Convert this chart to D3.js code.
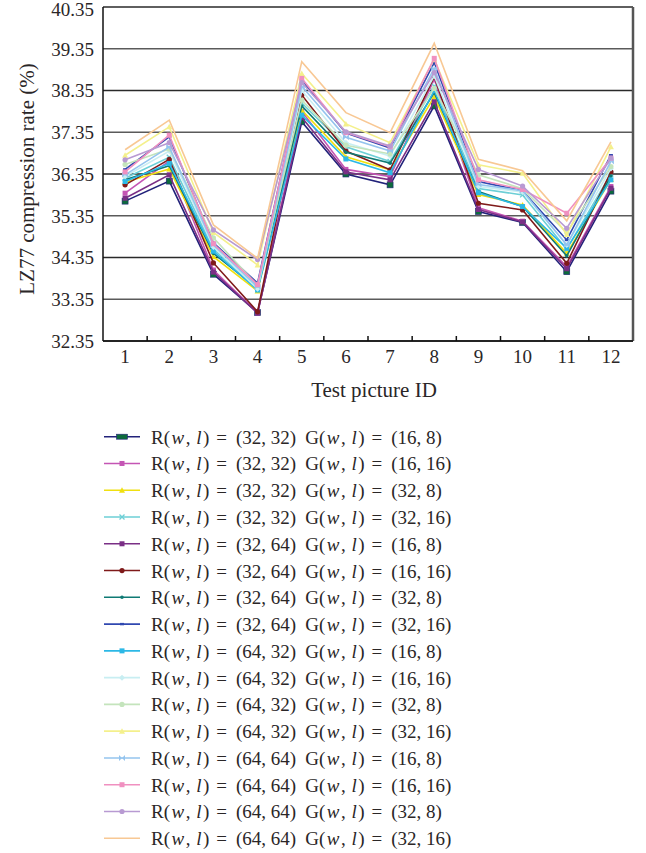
<!DOCTYPE html>
<html>
<head>
<meta charset="utf-8">
<script src="https://cdn.jsdelivr.net/npm/d3@7/dist/d3.min.js"></script>
<style>
  body { margin: 0; background: #fff; }
  text { font-family: "Liberation Serif", "DejaVu Serif", serif; fill: #2a2627; }
</style>
</head>
<body>
<div id="chart-area"></div>
<script>
// pictures on the x axis
const pictures = [1, 2, 3, 4, 5, 6, 7, 8, 9, 10, 11, 12]
const yTicks = [32.35, 33.35, 34.35, 35.35, 36.35, 37.35, 38.35, 39.35, 40.35]

// legend parts: R(w,l) and G(w,l) for each series
const rSizes = ['32, 32', '32, 32', '32, 32', '32, 32', '32, 64', '32, 64', '32, 64', '32, 64',
  '64, 32', '64, 32', '64, 32', '64, 32', '64, 64', '64, 64', '64, 64', '64, 64']
const gSizes = ['16, 8', '16, 16', '32, 8', '32, 16', '16, 8', '16, 16', '32, 8', '32, 16',
  '16, 8', '16, 16', '32, 8', '32, 16', '16, 8', '16, 16', '32, 8', '32, 16']

// compression rate (%) per series, pictures 1..12
const s1 = [35.70, 36.18, 33.95, 33.03, 37.60, 36.35, 36.09, 37.98, 35.45, 35.19, 34.01, 35.94]
const s2 = [35.89, 36.66, 34.05, 33.02, 37.85, 36.46, 36.29, 38.62, 35.54, 35.22, 34.13, 36.05]
const s3 = [36.15, 36.47, 34.37, 33.55, 37.88, 36.76, 36.45, 38.20, 35.86, 35.61, 34.45, 36.22]
const s4 = [36.25, 36.75, 34.55, 33.62, 38.05, 37.00, 36.65, 38.45, 36.00, 35.85, 34.55, 36.35]
const s5 = [35.77, 36.33, 34.00, 33.02, 37.71, 36.40, 36.21, 38.08, 35.50, 35.20, 34.08, 36.01]
const s6 = [36.09, 36.70, 34.22, 33.05, 38.24, 36.90, 36.45, 38.68, 35.65, 35.49, 34.21, 36.40]
const s7 = [36.21, 36.55, 34.45, 33.60, 37.98, 36.87, 36.61, 38.30, 35.93, 35.57, 34.39, 36.30]
const s8 = [36.46, 37.24, 34.70, 33.74, 38.60, 37.33, 36.97, 39.02, 36.17, 35.95, 34.77, 36.80]
const s9 = [36.17, 36.60, 34.50, 33.57, 37.76, 36.71, 36.38, 38.35, 35.90, 35.57, 34.57, 36.21]
const s10 = [36.29, 36.90, 34.60, 33.60, 38.35, 37.10, 36.78, 38.70, 36.05, 35.92, 34.65, 36.48]
const s11 = [36.58, 36.95, 34.82, 33.68, 38.12, 37.04, 36.83, 38.40, 36.33, 36.00, 34.95, 36.53]
const s12 = [36.80, 37.48, 34.95, 34.17, 38.76, 37.55, 37.10, 39.10, 36.57, 36.37, 34.90, 37.00]
const s13 = [36.33, 37.00, 34.65, 33.65, 38.45, 37.23, 36.90, 38.88, 36.10, 35.95, 34.65, 36.65]
const s14 = [36.40, 37.28, 34.68, 33.70, 38.64, 37.34, 37.00, 39.12, 36.21, 35.98, 35.41, 36.73]
const s15 = [36.69, 37.10, 35.01, 34.30, 38.54, 37.36, 37.02, 38.78, 36.46, 36.06, 35.05, 36.73]
const s16 = [36.93, 37.64, 35.13, 34.33, 39.04, 37.82, 37.34, 39.48, 36.70, 36.43, 35.23, 37.12]

const colors = ['#22227a', '#c455b4', '#f0e010', '#6ccfd6', '#7a2f86', '#7f1a1a', '#0f7a74', '#3048b0',
  '#2cb8e6', '#c8eef2', '#c4e4bc', '#f4f08c', '#94c4ee', '#f090c0', '#b89ad2', '#f8c894']
const markers = ['square', 'square', 'triangle', 'cross', 'square', 'circle', 'dot', 'dash',
  'square', 'diamond', 'circle', 'triangle', 'bowtie', 'square', 'circle', 'none']

const series = [s1, s2, s3, s4, s5, s6, s7, s8, s9, s10, s11, s12, s13, s14, s15, s16]
  .map((values, i) => ({ values, r: rSizes[i], g: gSizes[i], color: colors[i], marker: markers[i] }))

const margin = { left: 103, top: 7, right: 13, bottom: 512 }
const width = 646 - margin.left - margin.right
const height = 853 - margin.top - margin.bottom

const svg = d3.select('#chart-area').append('svg')
  .attr('width', 646)
  .attr('height', 853)

const g = svg.append('g')
  .attr('transform', `translate(${margin.left},${margin.top})`)

const x = d3.scaleBand()
  .domain(pictures)
  .range([0, width])

const y = d3.scaleLinear()
  .domain([32.35, 40.35])
  .range([height, 0])

const cx = d => x(d) + x.bandwidth() / 2

// grid lines
g.selectAll('.grid')
  .data(yTicks)
  .enter().append('line')
  .attr('x1', 0)
  .attr('x2', width)
  .attr('y1', d => y(d))
  .attr('y2', d => y(d))
  .attr('stroke', (d, i) => i % 2 ? '#5a5a5a' : '#2a2a2a')
  .attr('stroke-width', 1.5)

// right border
g.append('line')
  .attr('x1', width).attr('x2', width)
  .attr('y1', 0).attr('y2', height)
  .attr('stroke', '#555').attr('stroke-width', 2.5)

// y axis labels
const axisLeft = d3.axisLeft(y).tickValues(yTicks).tickSize(0).tickPadding(9).tickFormat(d3.format('.2f'))
g.append('g')
  .call(axisLeft)
  .call(a => a.select('.domain').remove())
  .selectAll('text')
  .attr('font-size', '19px')
  .attr('font-family', '"Liberation Serif", serif')
  .attr('fill', '#2a2627')
  .attr('dy', d => d === 40.35 ? '0.45em' : '0.34em')

// x axis labels
const axisBottom = d3.axisBottom(x).tickSize(0).tickPadding(9)
g.append('g')
  .attr('transform', `translate(0,${height})`)
  .call(axisBottom)
  .call(a => a.select('.domain').remove())
  .selectAll('text')
  .attr('font-size', '19px')
  .attr('font-family', '"Liberation Serif", serif')
  .attr('fill', '#2a2627')

// x ticks between pictures, pointing up
g.selectAll('.xtick')
  .data(pictures.slice(1))
  .enter().append('line')
  .attr('x1', d => x(d)).attr('x2', d => x(d))
  .attr('y1', height).attr('y2', height - 5)
  .attr('stroke', '#111').attr('stroke-width', 1.5)

// axis lines
g.append('line')
  .attr('x1', 0).attr('x2', 0).attr('y1', 0).attr('y2', height)
  .attr('stroke', '#111').attr('stroke-width', 1.5)
g.append('line')
  .attr('x1', 0).attr('x2', width).attr('y1', height).attr('y2', height)
  .attr('stroke', '#111').attr('stroke-width', 1.5)

// marker drawing
function drawMarker(sel, s, px, py, legend) {
  const c = s.color
  if (s.marker === 'square') {
    const big = s === series[0]
    const w = big ? (legend ? 11 : 6) : 5
    const h = big ? (legend ? 5 : 6) : 5
    sel.append('rect')
      .attr('x', px - w / 2).attr('y', py - h / 2)
      .attr('width', w).attr('height', h)
      .attr('fill', big ? '#0d6b3c' : c)
      .attr('stroke', big ? '#22227a' : 'none').attr('stroke-width', 0.6)
  } else if (s.marker === 'circle') {
    sel.append('circle').attr('cx', px).attr('cy', py).attr('r', 2.6).attr('fill', c)
  } else if (s.marker === 'triangle') {
    sel.append('path')
      .attr('d', `M${px},${py - 3}L${px + 3},${py + 2.5}L${px - 3},${py + 2.5}Z`)
      .attr('fill', c)
  } else if (s.marker === 'diamond') {
    sel.append('path')
      .attr('d', `M${px},${py - 3}L${px + 3},${py}L${px},${py + 3}L${px - 3},${py}Z`)
      .attr('fill', c)
  } else if (s.marker === 'cross') {
    sel.append('path')
      .attr('d', `M${px - 2.5},${py - 2.5}L${px + 2.5},${py + 2.5}M${px + 2.5},${py - 2.5}L${px - 2.5},${py + 2.5}`)
      .attr('stroke', c).attr('stroke-width', 1.3)
  } else if (s.marker === 'bowtie') {
    sel.append('path')
      .attr('d', `M${px - 3},${py - 3}L${px + 3},${py + 3}L${px + 3},${py - 3}L${px - 3},${py + 3}Z`)
      .attr('fill', c)
  } else if (s.marker === 'dot') {
    sel.append('circle').attr('cx', px).attr('cy', py).attr('r', 1.8).attr('fill', c)
  } else if (s.marker === 'dash') {
    sel.append('rect').attr('x', px - 2).attr('y', py - 1.2).attr('width', 4).attr('height', 2.4).attr('fill', c)
  }
}

const line = d3.line()
  .x((d, i) => cx(pictures[i]))
  .y(d => y(d))

series.forEach(s => {
  const sg = g.append('g')
  sg.append('path')
    .attr('d', line(s.values))
    .attr('fill', 'none')
    .attr('stroke', s.color)
    .attr('stroke-width', 1.6)
  s.values.forEach((v, i) => drawMarker(sg, s, cx(pictures[i]), y(v), false))
})

// axis titles
svg.append('text')
  .attr('x', 374)
  .attr('y', 397)
  .attr('text-anchor', 'middle')
  .attr('font-size', '21px')
  .text('Test picture ID')

svg.append('text')
  .attr('transform', 'translate(34, 179) rotate(-90)')
  .attr('text-anchor', 'middle')
  .attr('font-size', '21px')
  .text('LZ77 compression rate (%)')

// "R(w, l)" style piece with italic w and l, a bit wider like math type
function pair(t, letter, dxFirst) {
  t.append('tspan').attr('dx', dxFirst).text(letter + '(')
  t.append('tspan').attr('dx', 1.5).attr('font-style', 'italic').text('w')
  t.append('tspan').attr('dx', 1.5).text(', ')
  t.append('tspan').attr('dx', 1).attr('font-style', 'italic').text('l')
  t.append('tspan').attr('dx', 1.5).text(')')
}

// legend
const legend = svg.append('g')
series.forEach((s, i) => {
  const ly = 436.7 + i * 26.77
  const lg = legend.append('g')
  lg.append('line')
    .attr('x1', 104).attr('x2', 140)
    .attr('y1', ly).attr('y2', ly)
    .attr('stroke', s.color).attr('stroke-width', 1.6)
  drawMarker(lg, s, 122, ly, true)
  const t = lg.append('text')
    .attr('x', 151).attr('y', ly + 7)
    .attr('font-size', '19px')
  pair(t, 'R', 0)
  t.append('tspan').attr('dx', 7).text('=')
  t.append('tspan').attr('dx', 9).text(`(${s.r})`)
  pair(t, 'G', 9)
  t.append('tspan').attr('dx', 7).text('=')
  t.append('tspan').attr('dx', 9).text(`(${s.g})`)
})
</script>
</body>
</html>
